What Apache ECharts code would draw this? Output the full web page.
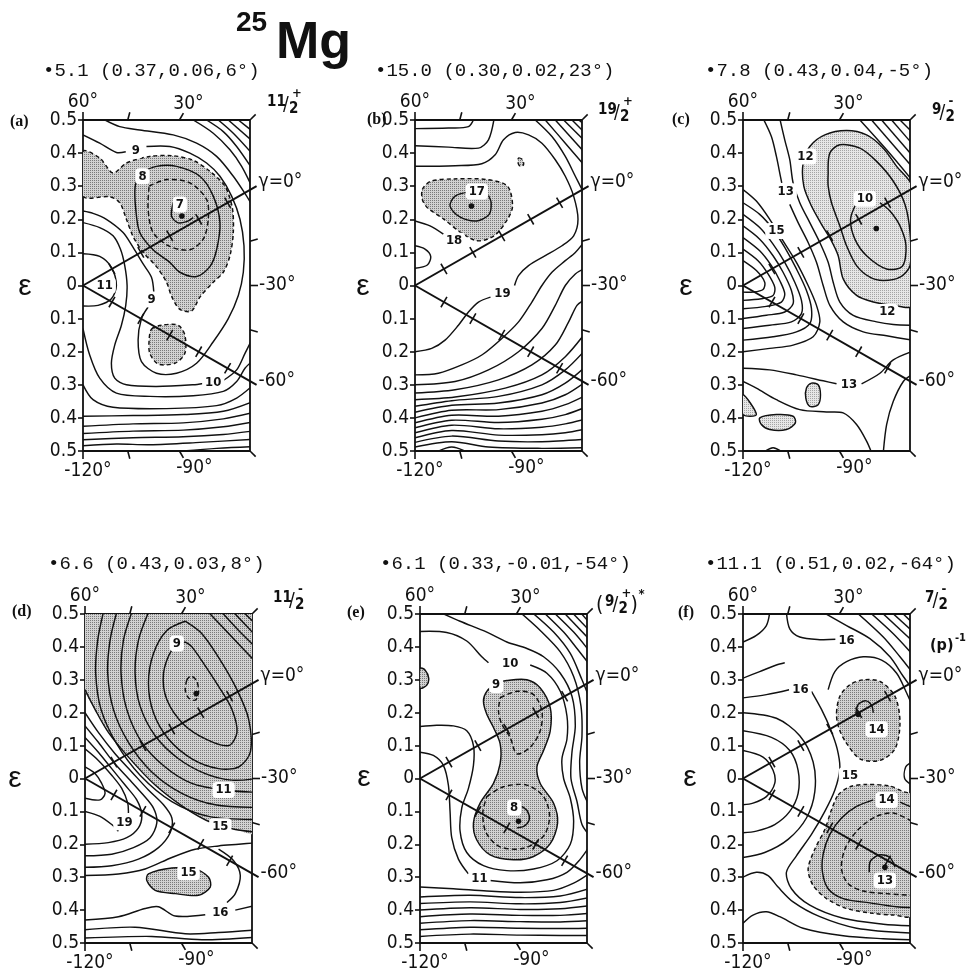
<!DOCTYPE html>
<html>
<head>
<meta charset="utf-8">
<title>25Mg</title>
<script src="https://cdn.jsdelivr.net/npm/echarts@6/dist/echarts.min.js"></script>
<style>
  html, body { margin: 0; background: #fff; }
  #chart { width: 966px; height: 980px; }
</style>
</head>
<body>
<div id="chart"></div>
<script>
// ---- frame / axis data (shared by the six panels) ----
var epsTicks = [0.1, 0.2, 0.3, 0.4, 0.5];
var gammaRays = [0, -60];
var rayLabels = ['γ=0°', '-60°'];
var rimGammas = [60, 45, 30, 15, -15, -30, -45, -75, -90, -105, -120];
var rimLabels = ['60°', '', '30°', '', '', '-30°', '', '', '-90°', '', '-120°'];

var panelTags = ['(a)', '(b)', '(c)', '(d)', '(e)', '(f)'];
var headerTexts = ['•5.1 (0.37,0.06,6°)', '•15.0 (0.30,0.02,23°)', '•7.8 (0.43,0.04,-5°)',
                   '•6.6 (0.43,0.03,8°)', '•6.1 (0.33,-0.01,-54°)', '•11.1 (0.51,0.02,-64°)'];
var spinNum = ['11', '19', '9', '11', '9', '7'];
var spinSign = ['+', '+', '-', '-', '+', '-'];

// ---- (a) 11/2+ ----
var aSolid = [
  [[0.066,0.5],[0.11,0.48],[0.17,0.47],[0.27,0.455],[0.34,0.43],[0.4,0.39],[0.45,0.33],[0.49,0.27],[0.505,0.245]],
  [[0,0.455],[0.05,0.43],[0.1,0.402],[0.128,0.404]],
  [[0.19,0.42],[0.26,0.42],[0.32,0.4],[0.37,0.37],[0.41,0.33],[0.445,0.27],[0.47,0.2],[0.482,0.12],[0.48,0.04],[0.465,-0.03],[0.435,-0.1],[0.39,-0.17],[0.34,-0.235],[0.28,-0.265],[0.22,-0.265],[0.175,-0.23],[0.165,-0.165],[0.175,-0.1],[0.195,-0.065]],
  [[0.212,-0.02],[0.205,0.025],[0.18,0.065],[0.15,0.115],[0.12,0.16],[0.07,0.2],[0.03,0.218],[0,0.225]],
  [[0,0.19],[0.05,0.175],[0.09,0.15],[0.112,0.11],[0.125,0.06],[0.132,0.0],[0.128,-0.06],[0.115,-0.12],[0.095,-0.18],[0.085,-0.235],[0.095,-0.28],[0.13,-0.3],[0.22,-0.305],[0.33,-0.3],[0.36,-0.296]],
  [[0.42,-0.287],[0.46,-0.255],[0.485,-0.205],[0.505,-0.165]],
  [[0,0.096],[0.05,0.088],[0.085,0.055],[0.1,0.0],[0.085,-0.04],[0.045,-0.06],[0,-0.062]],
  [[0,-0.13],[0.02,-0.21],[0.05,-0.28],[0.1,-0.325],[0.2,-0.335],[0.33,-0.333],[0.42,-0.32],[0.46,-0.29],[0.485,-0.25],[0.505,-0.23]],
  [[0,-0.3],[0.03,-0.345],[0.09,-0.368],[0.25,-0.372],[0.4,-0.363],[0.46,-0.34],[0.505,-0.305]],
  [[0,-0.395],[0.15,-0.393],[0.3,-0.39],[0.42,-0.38],[0.505,-0.352]],
  [[0,-0.425],[0.15,-0.418],[0.3,-0.415],[0.42,-0.403],[0.505,-0.385]],
  [[0,-0.447],[0.15,-0.44],[0.3,-0.437],[0.42,-0.427],[0.505,-0.413]],
  [[0,-0.466],[0.15,-0.46],[0.3,-0.457],[0.42,-0.45],[0.505,-0.44]],
  [[0,-0.484],[0.1,-0.479],[0.2,-0.481],[0.35,-0.474],[0.505,-0.465]],
  [[0.3,-0.5],[0.4,-0.492],[0.505,-0.487]],
  [[0.33,0.5],[0.39,0.46],[0.44,0.41],[0.475,0.36],[0.505,0.3]],
  [[0.37,0.5],[0.42,0.465],[0.46,0.42],[0.505,0.355]],
  [[0.405,0.5],[0.45,0.46],[0.505,0.4]],
  [[0.435,0.5],[0.505,0.438]],
  [[0.465,0.5],[0.505,0.468]],
  [[0.17,0.34],[0.156,0.298],[0.158,0.23],[0.17,0.16],[0.21,0.108],[0.26,0.07],[0.29,0.04],[0.34,0.027],[0.38,0.057],[0.4,0.108],[0.41,0.19],[0.39,0.27],[0.35,0.33],[0.28,0.36],[0.22,0.36],[0.17,0.34]],
  [[0.27,0.25],[0.265,0.21],[0.283,0.19],[0.31,0.193],[0.33,0.205]]
];
var aDashed = [
  [[0.198,0.3],[0.25,0.32],[0.32,0.31],[0.37,0.26],[0.375,0.2],[0.36,0.14],[0.32,0.108],[0.26,0.118],[0.21,0.16],[0.195,0.23],[0.198,0.3]]
];
var aShadeDashed = [
  [[0,0.405],[0.05,0.385],[0.09,0.34],[0.13,0.37],[0.2,0.39],[0.27,0.392],[0.33,0.378],[0.38,0.345],[0.425,0.3],[0.447,0.235],[0.45,0.16],[0.44,0.09],[0.42,0.04],[0.39,0.01],[0.35,-0.035],[0.325,-0.077],[0.29,-0.072],[0.265,-0.032],[0.25,0.01],[0.22,0.057],[0.18,0.1],[0.15,0.148],[0.13,0.2],[0.11,0.25],[0.08,0.268],[0,0.27]],
  [[0.205,-0.132],[0.235,-0.12],[0.285,-0.12],[0.305,-0.15],[0.305,-0.205],[0.275,-0.235],[0.225,-0.237],[0.2,-0.205],[0.198,-0.165]]
];
var aShadeSolid = [];
var aShadePlain = [];
var aLabels = [[0.158,0.408,'9'],[0.178,0.33,'8'],[0.29,0.245,'7'],[0.065,0.0,'11'],[0.205,-0.042,'9'],[0.39,-0.292,'10']];
var aMinima = [[0.296,0.21]];

// ---- (b) 19/2+ ----
var bSolid = [
  [[0,0.474],[0.1,0.476],[0.16,0.48],[0.177,0.505]],
  [[0,0.422],[0.1,0.418],[0.19,0.415],[0.22,0.44],[0.237,0.505]],
  [[0,0.36],[0.12,0.362],[0.2,0.368],[0.24,0.395],[0.265,0.44],[0.3,0.462],[0.34,0.455],[0.38,0.43],[0.42,0.38],[0.45,0.33],[0.475,0.27],[0.488,0.2],[0.475,0.15],[0.44,0.12],[0.39,0.09],[0.34,0.06],[0.31,0.03],[0.298,0.0]],
  [[0.226,-0.035],[0.19,-0.05],[0.16,-0.08],[0.13,-0.12],[0.09,-0.165],[0.05,-0.19],[0,-0.2]],
  [[0.36,0.5],[0.41,0.45],[0.45,0.39],[0.48,0.33],[0.505,0.28]],
  [[0.39,0.5],[0.45,0.43],[0.505,0.365]],
  [[0.42,0.5],[0.505,0.405]],
  [[0.445,0.5],[0.505,0.44]],
  [[0.47,0.5],[0.505,0.465]],
  [[0.49,0.5],[0.505,0.488]],
  [[0,-0.27],[0.07,-0.265],[0.14,-0.24],[0.2,-0.21],[0.26,-0.16],[0.31,-0.11],[0.35,-0.05],[0.38,0.0],[0.41,0.04],[0.45,0.075],[0.48,0.1],[0.505,0.13]],
  [[0,-0.3],[0.12,-0.29],[0.22,-0.255],[0.31,-0.2],[0.38,-0.13],[0.42,-0.06],[0.45,0.0],[0.48,0.035],[0.505,0.05]],
  [[0,-0.325],[0.12,-0.315],[0.25,-0.285],[0.35,-0.24],[0.42,-0.18],[0.46,-0.11],[0.485,-0.06],[0.505,-0.045]],
  [[0,-0.345],[0.12,-0.337],[0.27,-0.31],[0.38,-0.27],[0.45,-0.215],[0.505,-0.15]],
  [[0,-0.365],[0.11,-0.348],[0.25,-0.335],[0.38,-0.3],[0.45,-0.255],[0.505,-0.2]],
  [[0,-0.383],[0.11,-0.362],[0.25,-0.355],[0.38,-0.33],[0.45,-0.295],[0.505,-0.25]],
  [[0,-0.4],[0.11,-0.377],[0.25,-0.375],[0.38,-0.355],[0.45,-0.33],[0.505,-0.295]],
  [[0,-0.415],[0.11,-0.392],[0.25,-0.395],[0.38,-0.38],[0.45,-0.36],[0.505,-0.335]],
  [[0,-0.43],[0.11,-0.407],[0.25,-0.414],[0.38,-0.404],[0.45,-0.39],[0.505,-0.37]],
  [[0,-0.445],[0.11,-0.422],[0.25,-0.433],[0.38,-0.428],[0.45,-0.418],[0.505,-0.405]],
  [[0,-0.46],[0.11,-0.438],[0.25,-0.452],[0.38,-0.451],[0.45,-0.445],[0.505,-0.435]],
  [[0,-0.474],[0.11,-0.455],[0.25,-0.47],[0.38,-0.472],[0.505,-0.465]],
  [[0,-0.488],[0.11,-0.472],[0.22,-0.488],[0.38,-0.492],[0.505,-0.49]],
  [[0.06,-0.505],[0.11,-0.488],[0.16,-0.505]],
  [[0,0.12],[0.03,0.11],[0.047,0.088],[0.037,0.062],[0,0.052]],
  [[0,0.195],[0.045,0.18],[0.085,0.155]],
  [[0.16,0.282],[0.12,0.27],[0.105,0.24],[0.133,0.208],[0.185,0.195],[0.222,0.215],[0.228,0.25],[0.22,0.272]]
];
var bDashed = [];
var bShadeDashed = [
  [[0.022,0.29],[0.047,0.315],[0.117,0.322],[0.217,0.32],[0.277,0.3],[0.292,0.24],[0.277,0.2],[0.237,0.15],[0.187,0.135],[0.137,0.16],[0.087,0.2],[0.037,0.235],[0.022,0.26]],
  [[0.31,0.385],[0.322,0.38],[0.325,0.365],[0.315,0.36],[0.308,0.372]]
];
var bShadeSolid = [];
var bShadePlain = [];
var bLabels = [[0.185,0.284,'17'],[0.117,0.135,'18'],[0.262,-0.025,'19']];
var bMinima = [[0.169,0.24]];

// ---- (c) 9/2- ----
var cSolid = [
  [[0.35,0.5],[0.43,0.41],[0.505,0.32]],
  [[0.385,0.5],[0.505,0.36]],
  [[0.415,0.5],[0.505,0.395]],
  [[0.445,0.5],[0.505,0.43]],
  [[0.47,0.5],[0.505,0.465]],
  [[0.06,0.505],[0.085,0.45],[0.1,0.39],[0.112,0.33],[0.116,0.31]],
  [[0.14,0.245],[0.165,0.19],[0.195,0.13],[0.22,0.07],[0.24,0.0],[0.26,-0.06],[0.3,-0.11],[0.36,-0.14],[0.43,-0.152],[0.505,-0.165]],
  [[0.11,0.505],[0.125,0.44],[0.14,0.38],[0.15,0.31],[0.17,0.25],[0.2,0.19],[0.23,0.13],[0.255,0.07],[0.27,0.01],[0.29,-0.05],[0.33,-0.09],[0.4,-0.11],[0.45,-0.118],[0.505,-0.12]],
  [[0,0.29],[0.04,0.255],[0.08,0.2],[0.12,0.135],[0.16,0.07],[0.195,0.0],[0.22,-0.06],[0.23,-0.11],[0.21,-0.155],[0.15,-0.18],[0.08,-0.19],[0,-0.2]],
  [[0,0.25],[0.05,0.215],[0.09,0.17],[0.125,0.115],[0.16,0.05],[0.19,-0.015],[0.205,-0.07],[0.2,-0.115],[0.16,-0.14],[0.09,-0.155],[0,-0.165]],
  [[0,0.215],[0.05,0.175],[0.09,0.125],[0.125,0.07],[0.155,0.01],[0.175,-0.045],[0.175,-0.085],[0.145,-0.11],[0.08,-0.12],[0,-0.13]],
  [[0,0.18],[0.05,0.14],[0.09,0.09],[0.12,0.04],[0.145,-0.015],[0.15,-0.055],[0.125,-0.08],[0.07,-0.09],[0,-0.1]],
  [[0,0.145],[0.05,0.105],[0.085,0.06],[0.11,0.015],[0.125,-0.025],[0.115,-0.05],[0.07,-0.063],[0,-0.07]],
  [[0,0.11],[0.045,0.075],[0.075,0.035],[0.095,-0.005],[0.09,-0.03],[0.055,-0.04],[0,-0.045]],
  [[0,0.075],[0.04,0.045],[0.065,0.01],[0.06,-0.012],[0.03,-0.02],[0,-0.02]],
  [[0.255,0.34],[0.26,0.4],[0.29,0.425],[0.35,0.415],[0.4,0.375],[0.45,0.315],[0.485,0.245],[0.5,0.16],[0.5,0.06],[0.47,0.025],[0.42,0.015],[0.38,0.025],[0.34,0.06],[0.31,0.12],[0.29,0.18],[0.265,0.25],[0.255,0.3],[0.255,0.34]],
  [[0.34,0.25],[0.322,0.2],[0.335,0.14],[0.37,0.09],[0.43,0.05],[0.477,0.058],[0.488,0.12],[0.47,0.18],[0.44,0.225],[0.41,0.25]],
  [[0,-0.25],[0.08,-0.255],[0.16,-0.27],[0.24,-0.288],[0.28,-0.297]],
  [[0.355,-0.297],[0.41,-0.265],[0.45,-0.225],[0.505,-0.2]],
  [[0,-0.29],[0.04,-0.31],[0.1,-0.345],[0.17,-0.375],[0.25,-0.382],[0.3,-0.385],[0.34,-0.42],[0.37,-0.47],[0.385,-0.505]],
  [[0.42,-0.505],[0.43,-0.42],[0.45,-0.35],[0.48,-0.29],[0.505,-0.27]],
  [[0.06,-0.505],[0.09,-0.49],[0.12,-0.505]]
];
var cDashed = [];
var cShadeDashed = [];
var cShadeSolid = [
  [[0.18,0.37],[0.2,0.42],[0.245,0.455],[0.31,0.468],[0.37,0.455],[0.42,0.415],[0.46,0.36],[0.505,0.3],[0.505,-0.06],[0.45,-0.06],[0.39,-0.05],[0.34,-0.03],[0.3,0.02],[0.285,0.09],[0.262,0.14],[0.235,0.185],[0.205,0.24],[0.182,0.3]],
  [[0.19,-0.31],[0.205,-0.295],[0.225,-0.3],[0.232,-0.33],[0.225,-0.36],[0.2,-0.365],[0.188,-0.34]],
  [[0.05,-0.4],[0.1,-0.39],[0.15,-0.395],[0.157,-0.415],[0.13,-0.435],[0.08,-0.435],[0.055,-0.42]],
  [[0,-0.33],[0.04,-0.39],[0,-0.39]]
];
var cShadePlain = [];
var cLabels = [[0.187,0.39,'12'],[0.128,0.285,'13'],[0.1,0.165,'15'],[0.365,0.262,'10'],[0.432,-0.08,'12'],[0.317,-0.298,'13']];
var cMinima = [[0.399,0.172]];

// ---- (d) 11/2- ----
var dSolid = [
  [[0.3,0.415],[0.26,0.39],[0.235,0.32],[0.245,0.24],[0.295,0.165],[0.365,0.118],[0.43,0.1],[0.455,0.14],[0.44,0.21],[0.4,0.28],[0.355,0.35],[0.32,0.4],[0.3,0.415]],
  [[0.3,0.478],[0.245,0.45],[0.205,0.38],[0.19,0.29],[0.205,0.2],[0.25,0.12],[0.32,0.06],[0.4,0.03],[0.46,0.035],[0.495,0.08],[0.49,0.18],[0.455,0.27],[0.405,0.36],[0.35,0.44],[0.3,0.478]],
  [[0.19,0.505],[0.16,0.42],[0.15,0.32],[0.165,0.22],[0.21,0.13],[0.28,0.06],[0.36,0.015],[0.44,-0.005],[0.515,0.0]],
  [[0.14,0.505],[0.115,0.42],[0.108,0.32],[0.125,0.21],[0.17,0.11],[0.24,0.035],[0.32,-0.015],[0.415,-0.035],[0.515,-0.042]],
  [[0.095,0.505],[0.075,0.42],[0.068,0.32],[0.085,0.21],[0.13,0.11],[0.2,0.02],[0.29,-0.045],[0.39,-0.08],[0.515,-0.088]],
  [[0.055,0.505],[0.038,0.42],[0.032,0.32],[0.048,0.21],[0.095,0.105],[0.165,0.01],[0.26,-0.07],[0.37,-0.115],[0.515,-0.125]],
  [[0,0.27],[0.03,0.21],[0.07,0.14],[0.13,0.065],[0.21,-0.02],[0.3,-0.09],[0.38,-0.135],[0.45,-0.155],[0.515,-0.163]],
  [[0.37,0.505],[0.44,0.43],[0.515,0.35]],
  [[0.41,0.505],[0.46,0.45],[0.515,0.395]],
  [[0.445,0.505],[0.515,0.43]],
  [[0.475,0.505],[0.515,0.465]],
  [[0,0.2],[0.04,0.14],[0.09,0.075],[0.14,0.02],[0.19,-0.035],[0.235,-0.08],[0.26,-0.12],[0.255,-0.165],[0.22,-0.21],[0.16,-0.245],[0.08,-0.265],[0,-0.27]],
  [[0,0.16],[0.04,0.11],[0.085,0.05],[0.13,0.0],[0.17,-0.045],[0.205,-0.09],[0.215,-0.135],[0.195,-0.18],[0.145,-0.21],[0.08,-0.23],[0,-0.235]],
  [[0,0.125],[0.04,0.08],[0.08,0.03],[0.12,-0.02],[0.155,-0.065],[0.17,-0.11],[0.16,-0.15],[0.125,-0.18],[0.07,-0.195],[0,-0.2]],
  [[0,0.09],[0.04,0.055],[0.08,0.01],[0.11,-0.03],[0.128,-0.075],[0.13,-0.105]],
  [[0.1,-0.16],[0.08,-0.14],[0.045,-0.115],[0,-0.1]],
  [[0,0.035],[0.03,0.015],[0.05,-0.015],[0.06,-0.045],[0.045,-0.065],[0,-0.06]],
  [[0,-0.295],[0.1,-0.29],[0.18,-0.275],[0.26,-0.24],[0.33,-0.215],[0.4,-0.205],[0.46,-0.2],[0.515,-0.195]],
  [[0.4,-0.215],[0.445,-0.25],[0.465,-0.295],[0.45,-0.35],[0.425,-0.377]],
  [[0,-0.43],[0.1,-0.42],[0.18,-0.395],[0.22,-0.39],[0.27,-0.418],[0.36,-0.414]],
  [[0.45,-0.4],[0.515,-0.385]],
  [[0,-0.46],[0.15,-0.452],[0.3,-0.472],[0.4,-0.468],[0.515,-0.46]],
  [[0,-0.485],[0.2,-0.48],[0.35,-0.49],[0.515,-0.482]]
];
var dDashed = [
  [[0.305,0.3],[0.3,0.27],[0.31,0.245],[0.33,0.238],[0.34,0.26],[0.335,0.295],[0.318,0.312],[0.305,0.3]]
];
var dShadeDashed = [];
var dShadeSolid = [
  [[0.19,-0.29],[0.26,-0.272],[0.33,-0.275],[0.37,-0.3],[0.375,-0.33],[0.34,-0.355],[0.27,-0.35],[0.21,-0.34],[0.185,-0.31]]
];
var dShadePlain = [
  [[0,0.505],[0.515,0.505],[0.515,-0.163],[0.45,-0.155],[0.38,-0.135],[0.3,-0.09],[0.21,-0.02],[0.13,0.065],[0.07,0.14],[0.03,0.21],[0,0.27]]
];
var dLabels = [[0.275,0.41,'9'],[0.415,-0.035,'11'],[0.405,-0.145,'15'],[0.118,-0.133,'19'],[0.31,-0.285,'15'],[0.405,-0.407,'16']];
var dMinima = [[0.333,0.258]];

// ---- (e) (9/2+)* ----
var eSolid = [
  [[0.305,-0.085],[0.322,-0.1],[0.327,-0.125],[0.312,-0.145],[0.29,-0.15]],
  [[0,0.447],[0.08,0.444],[0.14,0.418],[0.185,0.37],[0.205,0.352]],
  [[0.33,0.345],[0.38,0.32],[0.42,0.265],[0.44,0.19],[0.44,0.12],[0.425,0.06],[0.43,0.0],[0.45,-0.06],[0.46,-0.13],[0.45,-0.2],[0.41,-0.25],[0.34,-0.275],[0.26,-0.28],[0.19,-0.265],[0.14,-0.225],[0.12,-0.16],[0.125,-0.09],[0.145,-0.03],[0.16,0.04],[0.16,0.1],[0.14,0.145],[0.1,0.16],[0.05,0.162],[0,0.158]],
  [[0,0.08],[0.04,0.07],[0.07,0.04],[0.085,-0.02],[0.09,-0.1],[0.095,-0.18],[0.115,-0.245],[0.145,-0.29]],
  [[0.21,-0.31],[0.3,-0.317],[0.38,-0.308],[0.44,-0.285],[0.48,-0.245],[0.505,-0.21]],
  [[0,-0.33],[0.1,-0.335],[0.2,-0.342],[0.3,-0.346],[0.4,-0.34],[0.46,-0.318],[0.505,-0.29]],
  [[0.06,0.505],[0.12,0.478],[0.2,0.445],[0.26,0.415],[0.32,0.395],[0.37,0.37],[0.42,0.32],[0.455,0.25],[0.465,0.16],[0.455,0.08],[0.452,0.0],[0.47,-0.07],[0.485,-0.14],[0.505,-0.17]],
  [[0.3,0.505],[0.36,0.45],[0.42,0.385],[0.46,0.31],[0.482,0.22],[0.485,0.13],[0.478,0.05],[0.485,-0.03],[0.505,-0.08]],
  [[0.335,0.505],[0.4,0.445],[0.45,0.38],[0.485,0.3],[0.505,0.25]],
  [[0.37,0.505],[0.43,0.445],[0.47,0.395],[0.505,0.35]],
  [[0.4,0.505],[0.46,0.445],[0.505,0.39]],
  [[0.43,0.505],[0.505,0.425]],
  [[0.455,0.505],[0.505,0.452]],
  [[0.48,0.505],[0.505,0.476]],
  [[0,-0.36],[0.15,-0.355],[0.3,-0.362],[0.42,-0.357],[0.505,-0.335]],
  [[0,-0.38],[0.15,-0.375],[0.3,-0.381],[0.42,-0.377],[0.505,-0.362]],
  [[0,-0.4],[0.15,-0.393],[0.3,-0.398],[0.42,-0.396],[0.505,-0.387]],
  [[0,-0.42],[0.15,-0.412],[0.3,-0.416],[0.42,-0.416],[0.505,-0.41]],
  [[0,-0.44],[0.15,-0.432],[0.3,-0.435],[0.42,-0.436],[0.505,-0.432]],
  [[0,-0.46],[0.15,-0.452],[0.3,-0.455],[0.42,-0.456],[0.505,-0.455]],
  [[0,-0.48],[0.15,-0.473],[0.3,-0.476],[0.42,-0.477],[0.505,-0.477]]
];
var eDashed = [
  [[0.24,0.245],[0.29,0.265],[0.34,0.255],[0.365,0.205],[0.36,0.145],[0.33,0.095],[0.29,0.075],[0.27,0.125],[0.245,0.165],[0.235,0.205],[0.24,0.245]],
  [[0.2,-0.055],[0.25,-0.025],[0.32,-0.02],[0.37,-0.055],[0.388,-0.115],[0.37,-0.175],[0.31,-0.212],[0.24,-0.208],[0.198,-0.165],[0.188,-0.105],[0.2,-0.055]]
];
var eShadeDashed = [];
var eShadeSolid = [
  [[0.19,0.235],[0.2,0.265],[0.23,0.29],[0.26,0.298],[0.32,0.3],[0.36,0.275],[0.39,0.215],[0.39,0.145],[0.37,0.085],[0.35,0.035],[0.36,-0.015],[0.4,-0.075],[0.412,-0.135],[0.39,-0.198],[0.34,-0.237],[0.28,-0.247],[0.21,-0.232],[0.17,-0.187],[0.16,-0.135],[0.18,-0.075],[0.22,-0.015],[0.24,0.045],[0.24,0.105],[0.22,0.155],[0.2,0.195]],
  [[0,0.335],[0.015,0.33],[0.026,0.305],[0.02,0.283],[0,0.275]]
];
var eShadePlain = [];
var eLabels = [[0.228,0.284,'9'],[0.27,0.35,'10'],[0.282,-0.088,'8'],[0.178,-0.303,'11']];
var eMinima = [[0.295,-0.13]];

// ---- (f) 7/2- (p)^-1 ----
var fSolid = [
  [[0.505,-0.087],[0.47,-0.072]],
  [[0.39,-0.065],[0.34,-0.085],[0.295,-0.12],[0.26,-0.17],[0.24,-0.23],[0.238,-0.285],[0.255,-0.335],[0.3,-0.365],[0.38,-0.378],[0.46,-0.39],[0.505,-0.392]],
  [[0.378,-0.285],[0.382,-0.25],[0.41,-0.232],[0.44,-0.24],[0.455,-0.27]],
  [[0.338,0.198],[0.345,0.225],[0.368,0.236],[0.385,0.222],[0.39,0.2]],
  [[0.13,0.505],[0.14,0.455],[0.17,0.43],[0.23,0.422],[0.278,0.423]],
  [[0,0.415],[0.04,0.435],[0.07,0.465],[0.08,0.505]],
  [[0,0.305],[0.05,0.325],[0.1,0.345],[0.125,0.352]],
  [[0,0.245],[0.07,0.255],[0.138,0.27]],
  [[0.205,0.265],[0.235,0.21],[0.262,0.15],[0.282,0.09],[0.29,0.03],[0.275,-0.035],[0.245,-0.1],[0.205,-0.17],[0.16,-0.235],[0.13,-0.285],[0.145,-0.335],[0.2,-0.385],[0.3,-0.425],[0.42,-0.443],[0.505,-0.448]],
  [[0.24,0.505],[0.31,0.465],[0.38,0.425],[0.44,0.37],[0.48,0.31],[0.505,0.275]],
  [[0.255,0.27],[0.275,0.325],[0.31,0.355],[0.36,0.37],[0.415,0.36],[0.46,0.32],[0.49,0.26],[0.505,0.225]],
  [[0.34,0.505],[0.42,0.43],[0.47,0.37],[0.505,0.325]],
  [[0.38,0.505],[0.45,0.44],[0.505,0.38]],
  [[0.415,0.505],[0.505,0.42]],
  [[0.445,0.505],[0.505,0.45]],
  [[0.475,0.505],[0.505,0.475]],
  [[0,0.085],[0.06,0.065],[0.09,0.025],[0.095,-0.015],[0.07,-0.055],[0.03,-0.075],[0,-0.08]],
  [[0,0.145],[0.085,0.125],[0.14,0.085],[0.165,0.025],[0.165,-0.045],[0.14,-0.1],[0.095,-0.14],[0.04,-0.16],[0,-0.165]],
  [[0,0.2],[0.1,0.183],[0.17,0.13],[0.21,0.05],[0.215,-0.04],[0.19,-0.12],[0.135,-0.185],[0.065,-0.225],[0,-0.24]],
  [[0,-0.3],[0.04,-0.285],[0.075,-0.295],[0.105,-0.33],[0.15,-0.375],[0.23,-0.42],[0.34,-0.455],[0.505,-0.47]],
  [[0,-0.44],[0.03,-0.415],[0.07,-0.405],[0.11,-0.42],[0.18,-0.455],[0.3,-0.478],[0.42,-0.487],[0.505,-0.49]],
  [[0.505,0.05],[0.487,0.035],[0.484,0.0],[0.505,-0.02]]
];
var fDashed = [
  [[0.505,-0.13],[0.45,-0.105],[0.4,-0.115],[0.345,-0.155],[0.305,-0.215],[0.295,-0.275],[0.315,-0.32],[0.36,-0.342],[0.43,-0.35],[0.505,-0.355]]
];
var fShadeDashed = [
  [[0.28,0.2],[0.29,0.25],[0.32,0.285],[0.36,0.3],[0.41,0.295],[0.455,0.25],[0.47,0.17],[0.455,0.09],[0.41,0.055],[0.35,0.06],[0.305,0.115],[0.285,0.16]],
  [[0.285,-0.05],[0.32,-0.025],[0.37,-0.018],[0.44,-0.023],[0.48,-0.04],[0.505,-0.05],[0.505,-0.415],[0.45,-0.415],[0.39,-0.41],[0.31,-0.395],[0.25,-0.365],[0.21,-0.325],[0.195,-0.275],[0.215,-0.215],[0.245,-0.155],[0.265,-0.095]]
];
var fShadeSolid = [];
var fShadePlain = [];
var fLabels = [[0.31,0.42,'16'],[0.172,0.27,'16'],[0.4,0.15,'14'],[0.32,0.01,'15'],[0.43,-0.065,'14'],[0.425,-0.31,'13']];
var fMinima = [[0.345,0.195],[0.425,-0.27]];

// ---- layout ----
var gridLeft = [83, 415, 743, 85, 420, 743];
var gridTop = [120, 120, 120, 614, 614, 614];
var gridWidth = 167;
var gridHeight = [331, 331, 331, 329, 329, 329];
var headerX = [43, 375, 705, 48, 380, 705];
var headerY = [71, 71, 71, 564, 564, 564];
var tagPos = [[10,122], [367,120], [672,120], [12,612], [347,613], [678,613]];
var epsPos = [[25,287], [363,287], [686,287], [15,779], [364,778], [690,778]];
var spinPos = [[267,93], [598,101], [932,101], [273,589], [605,593], [925,589]];
var shadeTone = ['dark', 'dark', 'light', 'dark', 'dark', 'dark'];
var rayEnd = 0.6;

var FONT = '"DejaVu Sans Condensed", "Liberation Sans Narrow", "Liberation Sans", sans-serif';
var INK = '#111';

var panels = [
  { solid: aSolid, dashed: aDashed, shadeDashed: aShadeDashed, shadeSolid: aShadeSolid, shadePlain: aShadePlain, labels: aLabels, minima: aMinima },
  { solid: bSolid, dashed: bDashed, shadeDashed: bShadeDashed, shadeSolid: bShadeSolid, shadePlain: bShadePlain, labels: bLabels, minima: bMinima },
  { solid: cSolid, dashed: cDashed, shadeDashed: cShadeDashed, shadeSolid: cShadeSolid, shadePlain: cShadePlain, labels: cLabels, minima: cMinima },
  { solid: dSolid, dashed: dDashed, shadeDashed: dShadeDashed, shadeSolid: dShadeSolid, shadePlain: dShadePlain, labels: dLabels, minima: dMinima },
  { solid: eSolid, dashed: eDashed, shadeDashed: eShadeDashed, shadeSolid: eShadeSolid, shadePlain: eShadePlain, labels: eLabels, minima: eMinima },
  { solid: fSolid, dashed: fDashed, shadeDashed: fShadeDashed, shadeSolid: fShadeSolid, shadePlain: fShadePlain, labels: fLabels, minima: fMinima }
];

// fine dot screen used for the shaded regions
function dotScreen(base, dot) {
  var c = document.createElement('canvas');
  c.width = 2; c.height = 2;
  var g = c.getContext('2d');
  g.fillStyle = base; g.fillRect(0, 0, 2, 2);
  g.fillStyle = dot; g.fillRect(0, 0, 1, 1);
  return { image: c, repeat: 'repeat' };
}
var screens = { dark: dotScreen('#d2d2d2', '#7a7a7a'), light: dotScreen('#e6e6e6', '#a4a4a4') };

function firstPoints(list) {
  return list.map(function (l) { return [l[0][0], l[0][1]]; });
}

function lineSeries(i, lines, dashed) {
  return {
    type: 'custom', xAxisIndex: i, yAxisIndex: i, clip: true, z: 3, silent: true,
    data: firstPoints(lines),
    renderItem: function (params, api) {
      var pts = lines[params.dataIndex].map(function (p) { return api.coord(p); });
      return {
        type: 'polyline', shape: { points: pts, smooth: 0.3 },
        style: { stroke: INK, lineWidth: 1.45, fill: 'none', lineDash: dashed ? [5, 3] : null }
      };
    }
  };
}

function shadeSeries(i, polys, outline, tone) {
  return {
    type: 'custom', xAxisIndex: i, yAxisIndex: i, clip: true, z: 2, silent: true,
    data: firstPoints(polys),
    renderItem: function (params, api) {
      var pts = polys[params.dataIndex].map(function (p) { return api.coord(p); });
      return {
        type: 'polygon', shape: { points: pts, smooth: 0.3 },
        style: {
          fill: screens[tone],
          stroke: outline ? INK : 'none',
          lineWidth: 1.45,
          lineDash: outline === 'dashed' ? [4, 3] : null
        }
      };
    }
  };
}

function labelSeries(i, labels) {
  return {
    type: 'custom', xAxisIndex: i, yAxisIndex: i, clip: false, z: 5, silent: true,
    data: labels.map(function (l) { return [l[0], l[1]]; }),
    renderItem: function (params, api) {
      var l = labels[params.dataIndex];
      var p = api.coord([l[0], l[1]]);
      return {
        type: 'text', x: p[0], y: p[1],
        style: {
          text: l[2], font: 'bold 13px ' + FONT, fill: INK,
          align: 'center', verticalAlign: 'middle',
          backgroundColor: '#fff', padding: [2, 3, 1, 3], borderRadius: 4
        }
      };
    }
  };
}

function minimaSeries(i, pts) {
  return {
    type: 'custom', xAxisIndex: i, yAxisIndex: i, clip: false, z: 6, silent: true,
    data: pts,
    renderItem: function (params, api) {
      var p = api.coord(pts[params.dataIndex]);
      return { type: 'circle', shape: { cx: p[0], cy: p[1], r: 2.8 }, style: { fill: INK } };
    }
  };
}

function frameSeries(i) {
  return {
    type: 'custom', xAxisIndex: i, yAxisIndex: i, clip: false, z: 7, silent: true,
    data: [[0, 0]],
    renderItem: function (params, api) {
      var kids = [];
      var o = api.coord([0, 0]);
      function seg(p, q, w) {
        kids.push({ type: 'line', shape: { x1: p[0], y1: p[1], x2: q[0], y2: q[1] }, style: { stroke: INK, lineWidth: w } });
      }
      function txt(s, x, y, align) {
        kids.push({ type: 'text', x: x, y: y, style: { text: s, font: '19px ' + FONT, fill: INK, align: align, verticalAlign: 'middle' } });
      }
      gammaRays.forEach(function (g, k) {
        var t = (g + 30) * Math.PI / 180, c = Math.cos(t), s = Math.sin(t);
        var end = api.coord([rayEnd * c, rayEnd * s]);
        seg(o, end, 2);
        epsTicks.forEach(function (e) {
          var p = api.coord([e * c, e * s]);
          seg([p[0] - 6 * s, p[1] - 6 * c], [p[0] + 6 * s, p[1] + 6 * c], 1.6);
        });
        txt(rayLabels[k], end[0] + 2, end[1] - 4, 'left');
      });
      rimGammas.forEach(function (g, k) {
        var t = (g + 30) * Math.PI / 180, c = Math.cos(t), s = Math.sin(t);
        var rx = Math.abs(c) > 1e-6 ? 0.5 / Math.abs(c) : 99;
        var ry = Math.abs(s) > 1e-6 ? 0.5 / Math.abs(s) : 99;
        var r = Math.min(rx, ry);
        var p = api.coord([r * c, r * s]);
        var q = [p[0] + 8 * c, p[1] - 8 * s];
        seg(p, q, 1.6);
        if (rimLabels[k]) {
          if (Math.abs(s) > 0.5) {
            var d = s > 0 ? 18 : 20;
            txt(rimLabels[k], p[0] + d * c + (s > 0 ? 0 : 5), p[1] - d * s, 'center');
          } else {
            txt(rimLabels[k], q[0] + 1, q[1], 'left');
          }
        }
      });
      return { type: 'group', children: kids };
    }
  };
}

var grids = [], xAxes = [], yAxes = [], series = [];
panels.forEach(function (p, i) {
  grids.push({
    left: gridLeft[i], top: gridTop[i], width: gridWidth, height: gridHeight[i],
    show: true, borderColor: INK, borderWidth: 1.8, backgroundColor: 'transparent'
  });
  xAxes.push({ gridIndex: i, type: 'value', min: 0, max: 0.5, show: false });
  yAxes.push({
    gridIndex: i, type: 'value', min: -0.5, max: 0.5, interval: 0.1,
    axisLine: { show: false },
    axisTick: { show: true, length: 5, lineStyle: { color: INK, width: 1.6 } },
    splitLine: { show: false },
    axisLabel: {
      margin: 6, color: INK, fontSize: 19, fontFamily: FONT,
      formatter: function (v) { var a = Math.abs(v); return a < 1e-9 ? '0' : a.toFixed(1); }
    }
  });
  if (p.shadePlain.length) series.push(shadeSeries(i, p.shadePlain, null, shadeTone[i]));
  if (p.shadeSolid.length) series.push(shadeSeries(i, p.shadeSolid, 'solid', shadeTone[i]));
  if (p.shadeDashed.length) series.push(shadeSeries(i, p.shadeDashed, 'dashed', shadeTone[i]));
  if (p.solid.length) series.push(lineSeries(i, p.solid, false));
  if (p.dashed.length) series.push(lineSeries(i, p.dashed, true));
  series.push(labelSeries(i, p.labels));
  series.push(minimaSeries(i, p.minima));
  series.push(frameSeries(i));
});

// ---- texts around the panels ----
function gtext(x, y, s, font, align) {
  return {
    type: 'text', x: x, y: y, silent: true,
    style: { text: s, font: font, fill: INK, align: align || 'left', verticalAlign: 'middle', textAlign: align || 'left', textVerticalAlign: 'middle' }
  };
}
var graphics = [];
graphics.push(gtext(236, 23, '25', 'bold 28px "Liberation Sans", Arial, sans-serif'));
graphics.push(gtext(276, 44, 'Mg', 'bold 52px "Liberation Sans", Arial, sans-serif'));
panels.forEach(function (p, i) {
  graphics.push(gtext(headerX[i], headerY[i], headerTexts[i], '19px "Liberation Mono", "DejaVu Sans Mono", monospace'));
  graphics.push(gtext(tagPos[i][0], tagPos[i][1], panelTags[i], 'bold 16px "Liberation Serif", serif'));
  graphics.push(gtext(epsPos[i][0], epsPos[i][1], 'ε', '30px "Liberation Sans", sans-serif', 'center'));
  var ax = spinPos[i][0], ay = spinPos[i][1];
  var nw = spinNum[i].length * 8.5;
  graphics.push(gtext(ax, ay + 9, spinNum[i], 'bold 15px ' + FONT));
  graphics.push(gtext(ax + nw - 1, ay + 12, '/', '19px ' + FONT));
  graphics.push(gtext(ax + nw + 5, ay + 16, '2', 'bold 15px ' + FONT));
  graphics.push(gtext(ax + nw + 8, ay + 1, spinSign[i], 'bold 13px ' + FONT));
  if (i === 4) {
    graphics.push(gtext(ax - 9, ay + 13, '(', '21px ' + FONT));
    graphics.push(gtext(ax + nw + 17, ay + 13, ')', '21px ' + FONT));
    graphics.push(gtext(ax + nw + 25, ay + 2, '*', 'bold 13px ' + FONT));
  }
  if (i === 5) {
    graphics.push(gtext(930, 646, '(p)', 'bold 16px ' + FONT));
    graphics.push(gtext(955, 638, '-1', 'bold 11px ' + FONT));
  }
});

var chart = echarts.init(document.getElementById('chart'));
chart.setOption({
  animation: false,
  backgroundColor: '#fff',
  grid: grids,
  xAxis: xAxes,
  yAxis: yAxes,
  series: series,
  graphic: { elements: graphics }
});
</script>
</body>
</html>
